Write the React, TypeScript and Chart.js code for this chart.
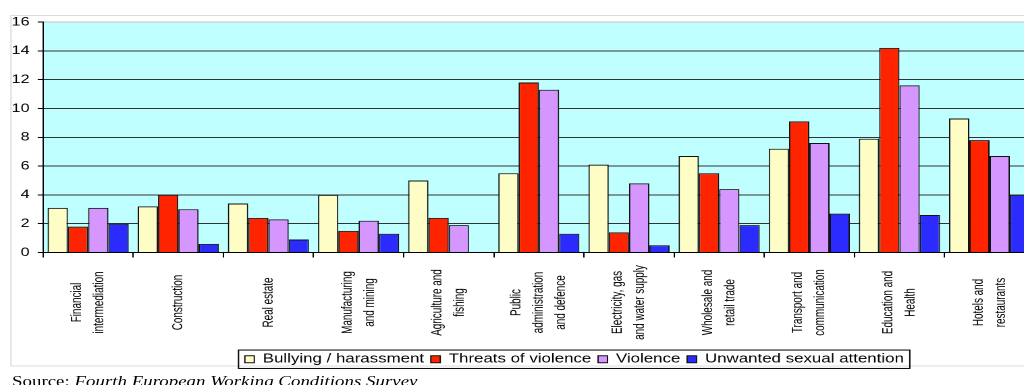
import React, { useEffect, useRef } from "react";
import { Chart, registerables } from "chart.js";

Chart.register(...registerables);

const categories: string[][] = [
  ["Financial", "intermediation"],
  ["Construction"],
  ["Real estate"],
  ["Manufacturing", "and mining"],
  ["Agriculture and", "fishing"],
  ["Public", "administration", "and defence"],
  ["Electricity, gas", "and water supply"],
  ["Wholesale and", "retail trade"],
  ["Transport and", "communication"],
  ["Education and", "Health"],
  ["Hotels and", "restaurants"],
];

const seriesNames = [
  "Bullying / harassment",
  "Threats of violence",
  "Violence",
  "Unwanted sexual attention",
];

const bullying = [3.1, 3.2, 3.4, 4.0, 5.0, 5.5, 6.1, 6.7, 7.2, 7.9, 9.3];
const threats = [1.8, 4.0, 2.4, 1.5, 2.4, 11.8, 1.4, 5.5, 9.1, 14.2, 7.8];
const violence = [3.1, 3.0, 2.3, 2.2, 1.9, 11.3, 4.8, 4.4, 7.6, 11.6, 6.7];
const sexual = [2.0, 0.6, 0.9, 1.3, 0, 1.3, 0.5, 1.9, 2.7, 2.6, 4.0];

const yTicks = [0, 2, 4, 6, 8, 10, 12, 14, 16];

const colors = ["#FFFDC6", "#FF2400", "#D597FF", "#2B2BFF"];

const SX = 1.35; // horizontal stretch of the original picture
const W = 842.3;
const H = 385;

export default function App() {
  const ref = useRef<HTMLCanvasElement | null>(null);

  useEffect(() => {
    const canvas = ref.current;
    if (!canvas) return;

    const decor = {
      id: "decor",
      beforeDraw(chart: any) {
        const { ctx, chartArea } = chart;
        ctx.save();
        ctx.strokeStyle = "#dcdcdc";
        ctx.lineWidth = 1;
        ctx.strokeRect(8.15, 15.5, 2000, 350.5);
        ctx.fillStyle = "#C0FFFF";
        ctx.fillRect(
          chartArea.left,
          chartArea.top,
          chartArea.right - chartArea.left,
          chartArea.bottom - chartArea.top
        );
        ctx.restore();
      },
      afterDraw(chart: any) {
        const { ctx } = chart;
        const xs = chart.scales.x;
        ctx.save();
        ctx.font = "11px 'Liberation Sans', Arial, sans-serif";
        ctx.fillStyle = "#000";
        ctx.textAlign = "center";
        ctx.textBaseline = "middle";
        const lineH = 16.5;
        categories.forEach((lines, i) => {
          const x = xs.getPixelForValue(i);
          const cy = xs.top + 50;
          ctx.save();
          ctx.translate(x, cy);
          ctx.rotate(-Math.PI / 2);
          ctx.scale(0.9, 1);
          lines.forEach((line, j) => {
            const dy = (j - (lines.length - 1) / 2) * lineH;
            ctx.fillText(line, 0, dy);
          });
          ctx.restore();
        });
        // legend frame
        const lg = chart.legend;
        if (lg && lg.legendHitBoxes && lg.legendHitBoxes.length) {
          const hb = lg.legendHitBoxes;
          const first = hb[0];
          const last = hb[hb.length - 1];
          const left = first.left - 4.7;
          const right = last.left + last.width + 4.4;
          const cyL = first.top + first.height / 2;
          ctx.strokeStyle = "#000";
          ctx.lineWidth = 1;
          ctx.strokeRect(left, cyL - 9.2, right - left, 18.4);
        }
        ctx.restore();
      },
    };

    const chart = new Chart(canvas, {
      type: "bar",
      data: {
        labels: categories,
        datasets: [bullying, threats, violence, sexual].map((d, k) => ({
          label: seriesNames[k],
          data: d,
          backgroundColor: colors[k],
          borderColor: "#111",
          borderWidth: 1,
          categoryPercentage: 0.9,
          barPercentage: 1.0,
        })),
      },
      options: {
        animation: false,
        responsive: false,
        devicePixelRatio: 2,
        layout: { padding: { top: 22, left: 8.9, right: 0, bottom: 9.5 } },
        plugins: {
          legend: {
            position: "bottom",
            labels: {
              boxWidth: 7,
              boxHeight: 7,
              padding: 5,
              color: "#000",
              font: { family: "'Liberation Sans', Arial, sans-serif", size: 12.5 },
            },
          },
          tooltip: { enabled: false },
        },
        scales: {
          x: {
            ticks: { display: false },
            grid: {
              display: true,
              drawOnChartArea: false,
              drawTicks: true,
              tickLength: 5,
              color: "#000",
              offset: true,
            },
            border: { display: true, color: "#000", width: 1 },
            afterFit(scale: any) {
              scale.height = 95.5;
            },
          },
          y: {
            min: 0,
            max: 16,
            afterBuildTicks(scale: any) {
              scale.ticks = yTicks.map((v) => ({ value: v }));
            },
            afterFit(scale: any) {
              scale.width = 23;
            },
            ticks: {
              padding: 6,
              color: "#000",
              font: { family: "'Liberation Sans', Arial, sans-serif", size: 12 },
            },
            grid: {
              color: (c: any) => (c.tick && c.tick.value === 16 ? "#c4c4c4" : "#333"),
              tickColor: "#000",
              tickLength: 4,
              lineWidth: 1,
            },
            border: { display: true, color: "#000", width: 1 },
          },
          spare: {
            type: "linear",
            position: "right",
            display: true,
            ticks: { display: false },
            grid: { display: false, drawTicks: false },
            border: { display: false },
            afterFit(scale: any) {
              scale.width = 75.6;
            },
          },
        },
      },
      plugins: [decor],
    });

    return () => chart.destroy();
  }, []);

  return (
    <div
      style={{
        position: "absolute",
        left: 0,
        top: 0,
        width: 1024,
        height: H,
        overflow: "hidden",
        background: "#fff",
      }}
    >
      <div
        style={{
          position: "absolute",
          left: 0,
          top: 0,
          width: W,
          height: H,
          transform: `scaleX(${SX})`,
          transformOrigin: "0 0",
        }}
      >
        <canvas ref={ref} width={W} height={H} style={{ display: "block" }} />
        <div
          style={{
            position: "absolute",
            left: 8.9,
            top: 375,
            fontFamily: "'Liberation Serif', 'Times New Roman', serif",
            fontSize: 14,
            lineHeight: "14px",
            whiteSpace: "nowrap",
            color: "#000",
          }}
        >
          Source: <i>Fourth European Working Conditions Survey</i>
        </div>
      </div>
    </div>
  );
}
